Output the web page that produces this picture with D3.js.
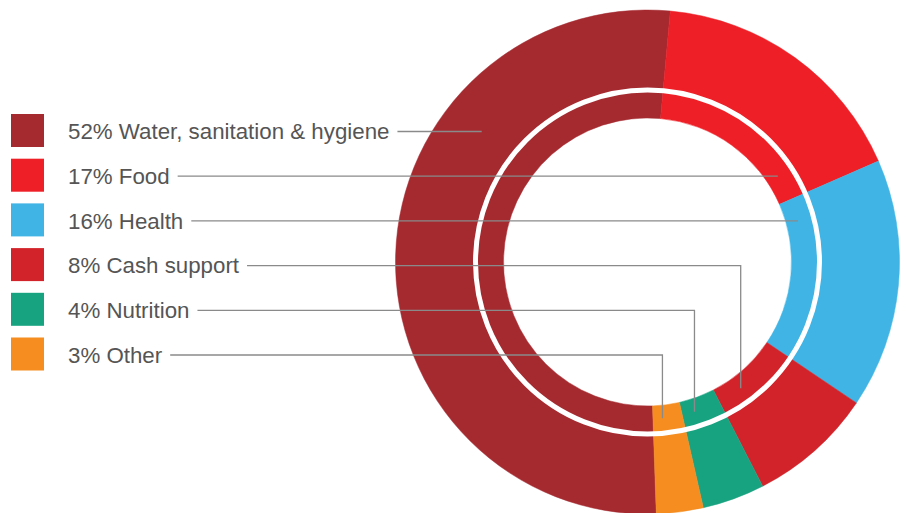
<!DOCTYPE html>
<html><head><meta charset="utf-8">
<script src="https://cdn.jsdelivr.net/npm/d3@7/dist/d3.min.js"></script>
<style>html,body{margin:0;padding:0;background:#fff;}svg{display:block;}</style>
</head><body>
<svg id="chart" width="906" height="513"></svg>
<script>
// Data
const categories = ["Water, sanitation & hygiene", "Food", "Health", "Cash support", "Nutrition", "Other"];
const shares = [52, 17, 16, 8, 4, 3];
const colors = ["#a52a30", "#ee1f26", "#3fb4e5", "#d2232a", "#18a380", "#f58d20"];
// drawing order clockwise starting from top (Food first)
const pieOrder = ["Food", "Health", "Cash support", "Nutrition", "Other", "Water, sanitation & hygiene"];

const W = 906, H = 513;
const cx = 647.5, cy = 262;
const rInner = 144, rOuter = 252, rGap = 172;
const startDeg = 5.2;

const svg = d3.select("#chart");
const data = categories.map((c, i) => ({cat: c, value: shares[i], color: colors[i], idx: i}));

const pie = d3.pie()
  .value(d => d.value)
  .sort((a, b) => pieOrder.indexOf(a.cat) - pieOrder.indexOf(b.cat))
  .startAngle(startDeg * Math.PI / 180)
  .endAngle(startDeg * Math.PI / 180 + 2 * Math.PI);
const arcs = pie(data);
const arcGen = d3.arc().innerRadius(rInner).outerRadius(rOuter);

const g = svg.append("g").attr("transform", `translate(${cx},${cy})`);
g.selectAll("path.slice").data(arcs).join("path")
  .attr("class", "slice")
  .attr("d", arcGen)
  .attr("fill", d => d.data.color)
  .attr("stroke", d => d.data.color)
  .attr("stroke-width", 0.5);

g.append("circle").attr("r", rGap).attr("fill", "none")
  .attr("stroke", "#fff").attr("stroke-width", 5);

// Legend
const legY0 = 130.5, legStep = 44.7, sq = 33;
const leg = svg.append("g");
const lineColor = "#8a8a8a";
data.forEach((d, i) => {
  const yc = legY0 + i * legStep;
  leg.append("rect").attr("x", 11).attr("y", yc - sq / 2).attr("width", sq).attr("height", sq).attr("fill", d.color);
  const t = leg.append("text").attr("x", 68).attr("y", yc + 8.7)
    .attr("font-family", "Liberation Sans, Arial, sans-serif")
    .attr("font-size", 22.3).attr("fill", "#555555")
    .text(`${d.value}% ${d.cat}`);
  const tw = t.node().getComputedTextLength();
  const x0 = 68 + tw + 8;
  const ly = yc + 1;
  const a = arcs.find(e => e.data.cat === d.cat);
  let path;
  if (i === 0) {
    const r = 211;
    const dy = ly - cy;
    const x1 = cx - Math.sqrt(r * r - dy * dy);
    path = `M${x0},${ly}H${x1}`;
  } else if (i <= 2) {
    const r = 156;
    const dy = ly - cy;
    const x1 = cx + Math.sqrt(r * r - dy * dy);
    path = `M${x0},${ly}H${x1}`;
  } else {
    const ang = a.startAngle + (a.endAngle - a.startAngle) * 0.68;
    const r = 157;
    const x1 = cx + r * Math.sin(ang);
    const y1 = cy - r * Math.cos(ang);
    path = `M${x0},${ly}H${x1}V${y1}`;
  }
  leg.append("path").attr("d", path).attr("fill", "none")
    .attr("stroke", lineColor).attr("stroke-width", 1.3);
});
</script>
</body></html>
